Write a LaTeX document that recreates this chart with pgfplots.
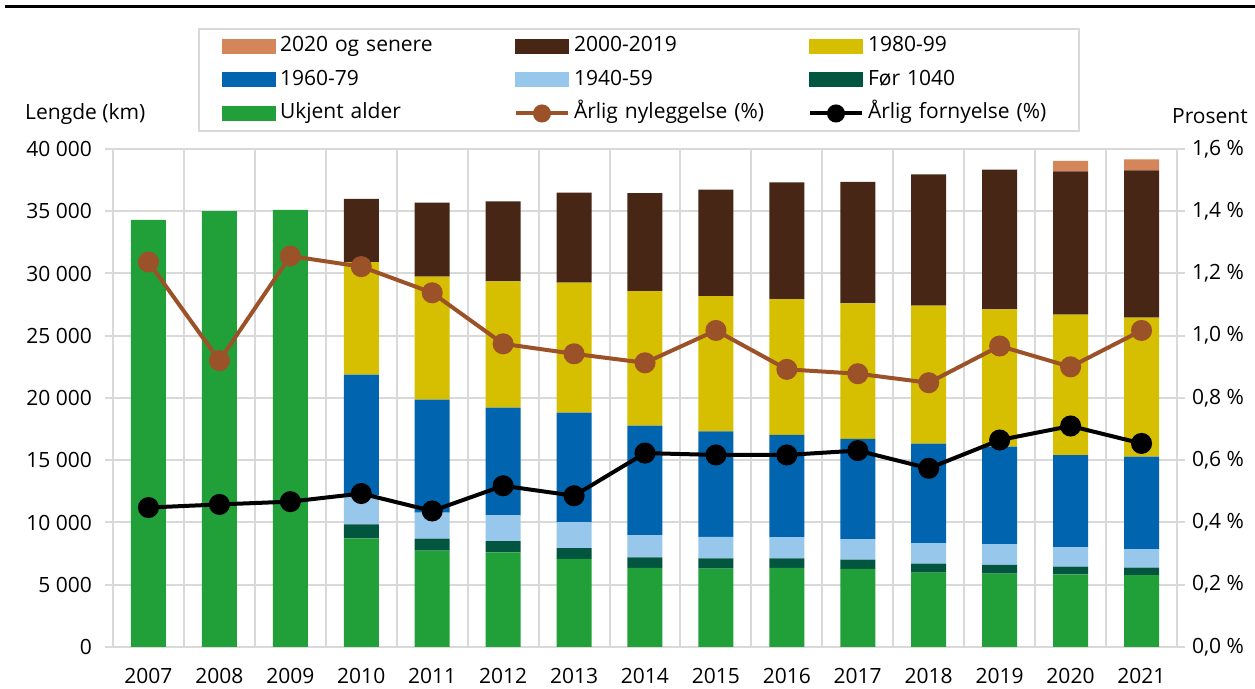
\documentclass[border=0pt]{standalone}
\usepackage{fontspec}
\setmainfont{Open Sans}
\usepackage{pgfplots}
\usepackage{pgfplotstable}
\pgfplotsset{compat=1.18}
\definecolor{c2020}{HTML}{D4855A}
\definecolor{c2000}{HTML}{472615}
\definecolor{c1980}{HTML}{D6BF00}
\definecolor{c1960}{HTML}{0064AF}
\definecolor{c1940}{HTML}{97C7EB}
\definecolor{cfor}{HTML}{02553F}
\definecolor{cukj}{HTML}{21A03A}
\definecolor{lnbrown}{HTML}{9C5229}
\definecolor{gridgray}{HTML}{D9D9D9}

\pgfplotstableread{
yr   ukj   for1040 y1940 y1960 y1980 y2000 y2020 nyl   forn
2007 34300 0    0    0    0     0     0   1.237 0.448
2008 35000 0    0    0    0     0     0   0.920 0.458
2009 35100 0    0    0    0     0     0   1.256 0.467
2010 8730  1120 2350 9670 9050  5080  0   1.222 0.493
2011 7740  960  2090 9070 9880  5960  0   1.138 0.437
2012 7600  910  2070 8640 10150 6430  0   0.974 0.518
2013 7070  880  2070 8800 10440 7240  0   0.942 0.486
2014 6350  850  1770 8810 10810 7860  0   0.913 0.623
2015 6290  830  1720 8480 10870 8540  0   1.017 0.617
2016 6350  770  1690 8220 10920 9370  0   0.892 0.617
2017 6270  740  1660 8040 10890 9750  0   0.878 0.631
2018 5970  720  1660 7980 11080 10550 0   0.849 0.574
2019 5890  700  1680 7820 11030 11220 0   0.967 0.665
2020 5840  610  1560 7410 11270 11510 840 0.900 0.710
2021 5780  590  1480 7440 11160 11840 880 1.017 0.654
}\data

\pgfplotsset{
  base/.style={
    scale only axis, width=532pt, height=249pt,
    xmin=2006.5, xmax=2021.5, enlargelimits=false,
    tick align=outside, major tick length=4pt,
    axis line style={gridgray, line width=1pt},
    ytick style={gridgray, line width=1pt},
    xtick style={draw=none},
    tick label style={/pgf/number format/assume math mode=true},
  },
  sw/.style={legend image code/.code={\fill[#1] (0pt,-3.25pt) rectangle (26pt,3.25pt);}},
  ln/.style={legend image code/.code={
    \draw[mark repeat=2, mark phase=2, ##1, mark size=3.5pt]
      plot coordinates {(0pt,0pt) (13pt,0pt) (26pt,0pt)};}},
}

\begin{document}
\begin{tikzpicture}[font=\fontsize{10.5}{12.6}\selectfont]
\useasboundingbox (-56.5pt,-21pt) rectangle (571pt,323.5pt);
\begin{axis}[base,
  ymin=0, ymax=40000,
  ybar stacked, bar width=17.5pt,
  xtick={2007,...,2021},
  x tick label style={/pgf/number format/1000 sep={}, yshift=-3pt},
  minor xtick={2006.5,2007.5,...,2021.5},
  xminorgrids, ymajorgrids,
  major grid style={gridgray, line width=1pt},
  minor grid style={gridgray, line width=1pt},
  ytick={0,5000,...,40000}, scaled y ticks=false,
  y tick label style={/pgf/number format/1000 sep={\ }, xshift=-3pt},
  ylabel={Lengde (km)},
  every axis y label/.style={at={(axis description cs:-0.026,1.07)}, anchor=center},
]
\addplot[fill=cukj, draw=none] table[x=yr, y=ukj] {\data};
\addplot[fill=cfor, draw=none] table[x=yr, y=for1040] {\data};
\addplot[fill=c1940, draw=none] table[x=yr, y=y1940] {\data};
\addplot[fill=c1960, draw=none] table[x=yr, y=y1960] {\data};
\addplot[fill=c1980, draw=none] table[x=yr, y=y1980] {\data};
\addplot[fill=c2000, draw=none] table[x=yr, y=y2000] {\data};
\addplot[fill=c2020, draw=none] table[x=yr, y=y2020] {\data};
\end{axis}

\begin{axis}[base,
  ymin=0, ymax=1.6,
  axis x line=none, axis y line*=right,
  ytick={0,0.2,0.4,0.6,0.8,1.0,1.2,1.4,1.6},
  yticklabel={\pgfmathprintnumber{\tick}~\%},
  y tick label style={/pgf/number format/.cd, use comma, fixed, fixed zerofill, precision=1},
  ylabel={Prosent},
  every axis y label/.style={at={(axis description cs:1.031,1.066)}, anchor=center},
  legend cell align=left,
  legend columns=3,
  legend style={at={(axis description cs:0.0799,1.243)}, anchor=north west,
    draw=gridgray, line width=1pt, inner xsep=11.5pt, inner ysep=1.5pt,
    column sep=0pt, row sep=2.25pt,
    nodes={inner xsep=2pt, inner ysep=2pt, text height=8pt, text depth=2.5pt,
      text width=115pt, align=left},
    /tikz/column 6/.style={nodes={text width=92pt}}},
]
\addlegendimage{sw=c2020}\addlegendentry{2020 og senere}
\addlegendimage{sw=c2000}\addlegendentry{2000-2019}
\addlegendimage{sw=c1980}\addlegendentry{1980-99}
\addlegendimage{sw=c1960}\addlegendentry{1960-79}
\addlegendimage{sw=c1940}\addlegendentry{1940-59}
\addlegendimage{sw=cfor}\addlegendentry{Før 1040}
\addlegendimage{sw=cukj}\addlegendentry{Ukjent alder}
\addplot[color=lnbrown, line width=2pt, mark=*, mark size=4.25pt, ln]
  table[x=yr, y=nyl] {\data};
\addlegendentry{Årlig nyleggelse (\%)}
\addplot[color=black, line width=2pt, mark=*, mark size=4.25pt, ln]
  table[x=yr, y=forn] {\data};
\addlegendentry{Årlig fornyelse (\%)}
\end{axis}
\draw[line width=1.5pt] (-54pt,320.25pt) -- (571pt,320.25pt);
\end{tikzpicture}
\end{document}
